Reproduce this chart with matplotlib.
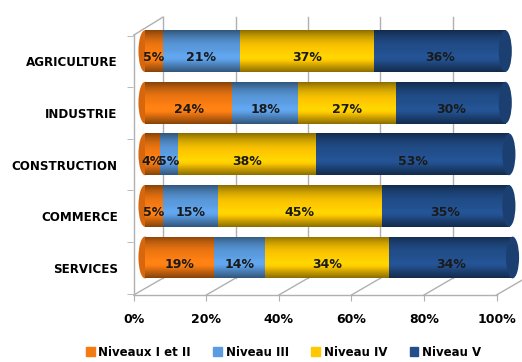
import numpy as np
import matplotlib.pyplot as plt
from matplotlib.colors import to_rgb
from matplotlib.patches import Ellipse

# data
secteurs = ['SERVICES', 'COMMERCE', 'CONSTRUCTION', 'INDUSTRIE', 'AGRICULTURE']
niveaux = ['Niveaux I et II', 'Niveau III', 'Niveau IV', 'Niveau V']
niv_1_2 = [19, 5, 4, 24, 5]
niv_3 = [14, 15, 5, 18, 21]
niv_4 = [34, 45, 38, 27, 37]
niv_5 = [34, 35, 53, 30, 36]
couleurs = ['#f57a12', '#5b9ce0', '#ffc800', '#224f8c']
xticks = [0, 20, 40, 60, 80, 100]

plt.rcParams['font.family'] = 'DejaVu Sans'

fig = plt.figure(figsize=(5.22, 3.62), dpi=100)
ax = fig.add_axes([133 / 522, 1 - 295 / 362, 389 / 522, 280 / 362])
ax.set_xlim(-3.3, 103.6)
ax.set_ylim(-0.727, 4.70)

y = np.arange(len(secteurs))
h = 0.81
depth_y = 0.2   # front plane sits lower than the bars
left = np.zeros(len(secteurs))

# fake 3d frame: front floor positions / back wall positions
front = lambda v: -3.1 + 0.997 * np.asarray(v)
back = lambda v: 4.95 + 0.996 * np.asarray(v)
grid_c = '#b0b0b0'
y_back, y_top, y_front_top = -0.40, 4.66, 4.31
for v in xticks:
    ax.plot([back(v)] * 2, [y_back, y_top], color=grid_c, lw=1, zorder=0, clip_on=False)
    ax.plot([front(v), back(v)], [-0.727, y_back], color=grid_c, lw=1, zorder=0, clip_on=False)
ax.plot([front(0), back(0)], [y_front_top, y_top], color=grid_c, lw=1, zorder=0, clip_on=False)
ax.plot([front(0)] * 2, [-0.727, y_front_top], color=grid_c, lw=1, zorder=0, clip_on=False)
ax.plot([front(0), front(100)], [-0.727, -0.727], color=grid_c, lw=1, zorder=0, clip_on=False)


def shade(c, n=64):
    # vertical gradient to fake the cylinder look
    base = np.array(to_rgb(c))
    t = np.linspace(-1, 1, n)
    f = 1.0 - 0.45 * t ** 2
    f = f + 0.12 * np.exp(-((t + 0.35) / 0.25) ** 2)
    img = np.clip(base[None, :] * f[:, None], 0, 1)
    return img[:, None, :]


# rounded left ends
for yi in y:
    ax.add_patch(Ellipse((0, yi), 3.6, h, facecolor='#d8660c', edgecolor='none', zorder=2.5))

for vals, c in zip([niv_1_2, niv_3, niv_4, niv_5], couleurs):
    bars = ax.barh(y, vals, left=left, height=h, color=c, edgecolor='none', zorder=3)
    for b, v in zip(bars, vals):
        x0, y0 = b.get_x(), b.get_y()
        im = ax.imshow(shade(c), extent=(x0, x0 + b.get_width(), y0, y0 + h),
                       aspect='auto', origin='lower', zorder=3.5, interpolation='bilinear')
        im.set_clip_path(b)
        ax.text(x0 + v / 2, y0 + h / 2 - 0.13, f'{v}%', ha='center', va='center',
                fontsize=9, fontweight='bold', color='#1a1a1a', zorder=5)
    left = left + np.array(vals)

# rounded right ends
for yi, tot in zip(y, left):
    ax.add_patch(Ellipse((tot, yi), 3.6, h, facecolor='#1b3f70', edgecolor='none', zorder=4))

ax.set_xticks(front(xticks))
ax.set_xticklabels([f'{v}%' for v in xticks], fontsize=9, fontweight='bold')
ax.set_yticks(y - depth_y)
ax.set_yticklabels(secteurs, fontsize=8.6, fontweight='bold')
ax.set_yticks(np.arange(len(secteurs) + 1) - 0.5 - depth_y, minor=True)
ax.tick_params(axis='y', which='major', length=0, pad=11)
ax.tick_params(axis='y', which='minor', length=4, color=grid_c)
ax.tick_params(axis='x', length=4, color=grid_c, pad=9)
for s in ax.spines.values():
    s.set_visible(False)

handles = [plt.Rectangle((0, 0), 1, 1, color=c) for c in couleurs]
fig.legend(handles, niveaux, loc='center', bbox_to_anchor=(0.543, 1 - 352 / 362), ncol=4,
           frameon=False, prop={'size': 8.5, 'weight': 'bold'}, handlelength=0.75,
           handleheight=0.75, handletextpad=0.3, columnspacing=1.9)

fig.savefig('out.png', dpi=100)
